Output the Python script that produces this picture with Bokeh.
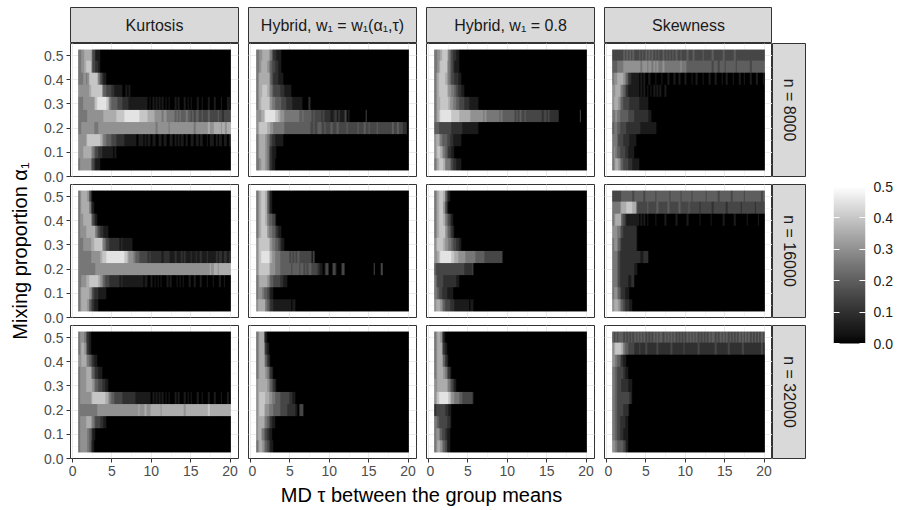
import numpy as np
from bokeh.plotting import figure
from bokeh.layouts import row, column
from bokeh.models import (Range1d, LinearColorMapper, SingleIntervalTicker,
                          FixedTicker, LinearAxis, PrintfTickFormatter, Spacer)
from bokeh.core.properties import value
from bokeh.embed import file_html
from bokeh.resources import INLINE

# ---------------- data ----------------
# tau grid (MD between group means) and mixing proportions (top row first)
tau = np.round(np.arange(0.8, 20.05, 0.2), 1)
alpha = [0.50, 0.45, 0.40, 0.35, 0.30, 0.25, 0.20, 0.15, 0.10, 0.05]
methods = ["Kurtosis", "Hybrid, w\u2081 = w\u2081(\u03b1\u2081,\u03c4)", "Hybrid, w\u2081 = 0.8", "Skewness"]
sizes = ["n = 8000", "n = 16000", "n = 32000"]
x_ticks = [0, 5, 10, 15, 20]
y_ticks = [0.0, 0.1, 0.2, 0.3, 0.4, 0.5]
legend_ticks = [0.0, 0.1, 0.2, 0.3, 0.4, 0.5]
x_title = "MD \u03c4 between the group means"
y_title = "Mixing proportion \u03b1\u2081"
LEVEL = 0.05  # one digit in the rows below = 0.05

# each row: one digit per tau column (0.8 ... 20.0), rows from alpha 0.50 down to 0.05
kurt_8000 = [
    "55667 77763 31110 00000 00000 00000 00000 00000 00000 00000 00000 00000 00000 00000 00000 00000 00000 00000 00000 00",
    "55667 88863 32210 00000 00000 00000 00000 00000 00000 00000 00000 00000 00000 00000 00000 00000 00000 00000 00000 00",
    "55566 56888 88753 21100 00000 00000 00000 00000 00000 00000 00000 00000 00000 00000 00000 00000 00000 00000 00000 00",
    "66666 66788 88888 54433 32211 11100 10100 00000 00000 00000 00000 00000 00000 00000 00000 00000 00000 00000 00000 00",
    "55566 66666 78999 99987 54444 33322 22111 11111 11110 10101 01010 10100 01010 00101 01000 10010 00100 01000 10001 10",
    "55555 56666 66666 67777 77778 88889 99999 99998 88887 77766 66656 65555 54545 44454 43434 43343 33433 33343 32333 33",
    "55666 66666 55566 66666 66666 66666 66666 66666 66666 66665 66666 66566 66666 66666 66656 66666 66766 67777 67767 77",
    "66666 78888 88887 65544 43332 22221 11111 11011 10101 10110 01101 10011 01010 11010 01101 10110 01011 10101 10110 11",
    "66677 77765 43322 11111 11010 00000 00000 00000 00000 00000 00000 00000 00000 00000 00000 00000 00000 00000 00000 00",
    "56666 66643 21110 00000 00000 00000 00000 00000 00000 00000 00000 00000 00000 00000 00000 00000 00000 00000 00000 00",
]
hyb_8000 = [
    "55667 77765 32211 10000 00000 00000 00000 00000 00000 00000 00000 00000 00000 00000 00000 00000 00000 00000 00000 00",
    "55677 77654 33221 10000 00000 00000 00000 00000 00000 00000 00000 00000 00000 00000 00000 00000 00000 00000 00000 00",
    "56777 77764 32221 11000 00000 00000 00000 00000 00000 00000 00000 00000 00000 00000 00000 00000 00000 00000 00000 00",
    "56778 88765 43333 22211 11000 00000 00000 00000 00000 00000 00000 00000 00000 00000 00000 00000 00000 00000 00000 00",
    "56788 88876 55444 43332 22211 11110 00020 00000 00000 00000 00000 00000 00000 00000 00000 00000 00000 00000 00000 00",
    "66677 89999 99887 66655 55555 55445 44444 34333 32322 22112 31311 13010 00000 00003 00000 00000 00000 00000 00000 00",
    "67888 88776 65555 55544 44444 44444 44443 34334 43343 33433 34333 33433 33334 33343 34333 34333 33333 34334 33322 00",
    "56777 76543 22111 11000 00000 00000 00000 00000 00000 00000 00000 00000 00000 00000 00000 00000 00000 00000 00000 00",
    "56777 76532 11100 00000 00000 00000 00000 00000 00000 00000 00000 00000 00000 00000 00000 00000 00000 00000 00000 00",
    "55677 76532 11000 00000 00000 00000 00000 00000 00000 00000 00000 00000 00000 00000 00000 00000 00000 00000 00000 00",
]
hyb08_8000 = [
    "55667 88875 43221 10000 00000 00000 00000 00000 00000 00000 00000 00000 00000 00000 00000 00000 00000 00000 00000 00",
    "55678 88865 43211 10000 00000 00000 00000 00000 00000 00000 00000 00000 00000 00000 00000 00000 00000 00000 00000 00",
    "56788 88765 43322 11000 00000 00000 00000 00000 00000 00000 00000 00000 00000 00000 00000 00000 00000 00000 00000 00",
    "56788 88876 65543 22110 00000 00000 00000 00000 00000 00000 00000 00000 00000 00000 00000 00000 00000 00000 00000 00",
    "56778 88887 66554 43332 22111 11100 00000 00000 00000 00000 00000 00000 00000 00000 00000 00000 00000 00000 00000 00",
    "56789 99999 98888 87777 77766 66666 65655 55555 54544 44444 43434 33433 33333 33323 32322 22220 00000 00000 00300 00",
    "44433 33333 32222 22211 11111 11100 00000 00000 00000 00000 00000 00000 00000 00000 00000 00000 00000 00000 00000 00",
    "67765 44433 22111 11000 00000 00000 00000 00000 00000 00000 00000 00000 00000 00000 00000 00000 00000 00000 00000 00",
    "67887 65432 21100 00000 00000 00000 00000 00000 00000 00000 00000 00000 00000 00000 00000 00000 00000 00000 00000 00",
    "56788 87555 43221 11000 00000 00000 00000 00000 00000 00000 00000 00000 00000 00000 00000 00000 00000 00000 00000 00",
]
skew_8000 = [
    "33333 33434 34343 33434 34343 43434 33434 34343 43343 33433 34333 33433 33343 33333 43333 33433 33333 33333 33333 33",
    "44455 55666 66666 66656 66566 56565 55655 55555 55565 55444 44444 44444 44434 44344 43444 44434 44444 44344 44444 44",
    "56677 77654 22111 11010 10010 00100 01000 10001 00100 01000 10010 00100 01000 10001 00100 01000 10010 00100 01000 10",
    "66777 65432 11111 11010 10101 01010 10010 00000 00000 00000 00000 00000 00000 00000 00000 00000 00000 00000 00000 00",
    "67776 54333 32222 22111 11100 00000 00000 00000 00000 00000 00000 00000 00000 00000 00000 00000 00000 00000 00000 00",
    "55655 44444 33332 22222 22211 00000 00000 00000 00000 00000 00000 00000 00000 00000 00000 00000 00000 00000 00000 00",
    "45544 33332 22222 22211 11111 11100 00000 00000 00000 00000 00000 00000 00000 00000 00000 00000 00000 00000 00000 00",
    "55543 33222 21111 00000 00000 00000 00000 00000 00000 00000 00000 00000 00000 00000 00000 00000 00000 00000 00000 00",
    "56544 33322 11110 00000 00000 00000 00000 00000 00000 00000 00000 00000 00000 00000 00000 00000 00000 00000 00000 00",
    "56776 54333 22211 11000 00000 00000 00000 00000 00000 00000 00000 00000 00000 00000 00000 00000 00000 00000 00000 00",
]
kurt_16000 = [
    "56777 76310 00000 00000 00000 00000 00000 00000 00000 00000 00000 00000 00000 00000 00000 00000 00000 00000 00000 00",
    "56777 77521 00000 00000 00000 00000 00000 00000 00000 00000 00000 00000 00000 00000 00000 00000 00000 00000 00000 00",
    "56677 77753 21000 00000 00000 00000 00000 00000 00000 00000 00000 00000 00000 00000 00000 00000 00000 00000 00000 00",
    "56666 77777 75432 21110 00000 00000 00000 00000 00000 00000 00000 00000 00000 00000 00000 00000 00000 00000 00000 00",
    "55566 66677 88888 65433 22222 21211 11110 00000 00000 00000 00000 00000 00000 00000 00000 00000 00000 00000 00000 00",
    "55555 55566 66667 88899 99999 99998 87666 54443 33332 32222 22212 22211 12111 21211 12112 11211 12111 11212 21221 21",
    "55555 55555 56666 66666 66666 66666 66666 66666 66666 66666 66666 66666 66666 66666 66666 66666 66676 67767 77777 77",
    "55666 77888 88876 54333 22222 21211 11111 11111 10110 01010 10100 01010 00101 01000 10010 00100 01000 10001 00100 00",
    "56777 77653 22211 11100 00000 00000 00000 00000 00000 00000 00000 00000 00000 00000 00000 00000 00000 00000 00000 00",
    "56777 76432 11100 00000 00000 00000 00000 00000 00000 00000 00000 00000 00000 00000 00000 00000 00000 00000 00000 00",
]
hyb_16000 = [
    "56788 87421 00000 00000 00000 00000 00000 00000 00000 00000 00000 00000 00000 00000 00000 00000 00000 00000 00000 00",
    "56788 87421 00000 00000 00000 00000 00000 00000 00000 00000 00000 00000 00000 00000 00000 00000 00000 00000 00000 00",
    "56788 87544 33100 00000 00000 00000 00000 00000 00000 00000 00000 00000 00000 00000 00000 00000 00000 00000 00000 00",
    "56788 88655 44321 10000 00000 00000 00000 00000 00000 00000 00000 00000 00000 00000 00000 00000 00000 00000 00000 00",
    "67888 88876 55443 21100 00000 00000 00000 00000 00000 00000 00000 00000 00000 00000 00000 00000 00000 00000 00000 00",
    "67899 99987 66555 44444 43434 34333 33333 14000 00000 00000 00000 00000 00000 00000 00000 00000 00000 00000 00000 00",
    "67888 88876 66555 44444 44344 44344 34344 33332 11013 30033 10003 30000 00000 00000 00003 00003 00000 00000 00000 00",
    "56777 77654 43333 22111 00000 00000 00000 00000 00000 00000 00000 00000 00000 00000 00000 00000 00000 00000 00000 00",
    "56665 44321 10000 00000 00000 00000 00000 00000 00000 00000 00000 00000 00000 00000 00000 00000 00000 00000 00000 00",
    "67777 75432 21111 11111 11011 00000 00000 00000 00000 00000 00000 00000 00000 00000 00000 00000 00000 00000 00000 00",
]
hyb08_16000 = [
    "56788 87421 00000 00000 00000 00000 00000 00000 00000 00000 00000 00000 00000 00000 00000 00000 00000 00000 00000 00",
    "56788 86310 00000 00000 00000 00000 00000 00000 00000 00000 00000 00000 00000 00000 00000 00000 00000 00000 00000 00",
    "56788 87543 21000 00000 00000 00000 00000 00000 00000 00000 00000 00000 00000 00000 00000 00000 00000 00000 00000 00",
    "56788 88654 32100 00000 00000 00000 00000 00000 00000 00000 00000 00000 00000 00000 00000 00000 00000 00000 00000 00",
    "67888 87665 54332 21000 00000 00000 00000 00000 00000 00000 00000 00000 00000 00000 00000 00000 00000 00000 00000 00",
    "66789 99999 98877 66666 55555 54444 44333 33333 33300 00000 00000 00000 00000 00000 00000 00000 00000 00000 00000 00",
    "43333 33333 33333 33332 22223 00000 00000 00000 00000 00000 00000 00000 00000 00000 00000 00000 00000 00000 00000 00",
    "54333 32222 22221 10000 00000 00000 00000 00000 00000 00000 00000 00000 00000 00000 00000 00000 00000 00000 00000 00",
    "55433 22211 11000 00000 00000 00000 00000 00000 00000 00000 00000 00000 00000 00000 00000 00000 00000 00000 00000 00",
    "67776 54333 22211 11111 11011 00000 00000 00000 00000 00000 00000 00000 00000 00000 00000 00000 00000 00000 00000 00",
]
skew_16000 = [
    "33333 34444 44434 44444 34444 44344 44444 43444 44434 44444 34444 44443 44444 44344 44444 34444 44434 44444 44443 44",
    "55555 67778 88877 43333 33433 33343 33333 43333 33433 33343 33333 23333 33323 33333 33233 33333 32333 33333 23333 33",
    "56777 74321 11111 11010 10100 00100 00010 00000 10000 00100 00000 10000 00100 00000 10000 00100 00000 10000 00100 00",
    "66655 43222 22222 10000 00000 00000 00000 00000 00000 00000 00000 00000 00000 00000 00000 00000 00000 00000 00000 00",
    "56654 32222 22222 10000 00000 00000 00000 00000 00000 00000 00000 00000 00000 00000 00000 00000 00000 00000 00000 00",
    "55543 22222 22222 22211 22200 00000 00000 00000 00000 00000 00000 00000 00000 00000 00000 00000 00000 00000 00000 00",
    "55543 22222 22221 10000 00000 00000 00000 00000 00000 00000 00000 00000 00000 00000 00000 00000 00000 00000 00000 00",
    "55543 22222 11220 00000 00000 00000 00000 00000 00000 00000 00000 00000 00000 00000 00000 00000 00000 00000 00000 00",
    "56654 32211 10000 00000 00000 00000 00000 00000 00000 00000 00000 00000 00000 00000 00000 00000 00000 00000 00000 00",
    "67776 54322 21100 00000 00000 00000 00000 00000 00000 00000 00000 00000 00000 00000 00000 00000 00000 00000 00000 00",
]
kurt_32000 = [
    "56665 32100 00000 00000 00000 00000 00000 00000 00000 00000 00000 00000 00000 00000 00000 00000 00000 00000 00000 00",
    "56776 42100 00000 00000 00000 00000 00000 00000 00000 00000 00000 00000 00000 00000 00000 00000 00000 00000 00000 00",
    "66777 65432 11000 00000 00000 00000 00000 00000 00000 00000 00000 00000 00000 00000 00000 00000 00000 00000 00000 00",
    "56666 77754 32211 00000 00000 00000 00000 00000 00000 00000 00000 00000 00000 00000 00000 00000 00000 00000 00000 00",
    "56666 77776 54433 22110 00000 00000 00000 00000 00000 00000 00000 00000 00000 00000 00000 00000 00000 00000 00000 00",
    "56666 66678 88888 88776 54433 33322 22222 21111 11111 10101 01010 10100 01010 00101 01000 10010 00100 01000 10001 00",
    "55555 55555 55666 66666 66666 66666 66666 66676 66766 67777 77677 77777 77777 77677 77777 77777 77877 77777 77777 77",
    "56666 77765 43332 21100 00000 00000 00000 00000 00000 00000 00000 00000 00000 00000 00000 00000 00000 00000 00000 00",
    "56666 65431 10000 00000 00000 00000 00000 00000 00000 00000 00000 00000 00000 00000 00000 00000 00000 00000 00000 00",
    "56666 65421 00000 00000 00000 00000 00000 00000 00000 00000 00000 00000 00000 00000 00000 00000 00000 00000 00000 00",
]
hyb_32000 = [
    "56777 31000 00000 00000 00000 00000 00000 00000 00000 00000 00000 00000 00000 00000 00000 00000 00000 00000 00000 00",
    "56777 52100 00000 00000 00000 00000 00000 00000 00000 00000 00000 00000 00000 00000 00000 00000 00000 00000 00000 00",
    "56777 64210 00000 00000 00000 00000 00000 00000 00000 00000 00000 00000 00000 00000 00000 00000 00000 00000 00000 00",
    "56777 76532 10000 00000 00000 00000 00000 00000 00000 00000 00000 00000 00000 00000 00000 00000 00000 00000 00000 00",
    "67777 77654 32100 00000 00000 00000 00000 00000 00000 00000 00000 00000 00000 00000 00000 00000 00000 00000 00000 00",
    "67888 87766 55444 33333 32211 00000 00000 00000 00000 00000 00000 00000 00000 00000 00000 00000 00000 00000 00000 00",
    "67888 76655 54444 33333 22222 10333 00000 00000 00000 00000 00000 00000 00000 00000 00000 00000 00000 00000 00000 00",
    "67777 65432 11000 00000 00000 00000 00000 00000 00000 00000 00000 00000 00000 00000 00000 00000 00000 00000 00000 00",
    "67765 43211 00000 00000 00000 00000 00000 00000 00000 00000 00000 00000 00000 00000 00000 00000 00000 00000 00000 00",
    "56776 54321 10000 00000 00000 00000 00000 00000 00000 00000 00000 00000 00000 00000 00000 00000 00000 00000 00000 00",
]
hyb08_32000 = [
    "56776 31000 00000 00000 00000 00000 00000 00000 00000 00000 00000 00000 00000 00000 00000 00000 00000 00000 00000 00",
    "56777 42100 00000 00000 00000 00000 00000 00000 00000 00000 00000 00000 00000 00000 00000 00000 00000 00000 00000 00",
    "56777 64210 00000 00000 00000 00000 00000 00000 00000 00000 00000 00000 00000 00000 00000 00000 00000 00000 00000 00",
    "56777 76532 10000 00000 00000 00000 00000 00000 00000 00000 00000 00000 00000 00000 00000 00000 00000 00000 00000 00",
    "66777 77765 43210 00000 00000 00000 00000 00000 00000 00000 00000 00000 00000 00000 00000 00000 00000 00000 00000 00",
    "67899 99998 76655 54433 33332 00000 00000 00000 00000 00000 00000 00000 00000 00000 00000 00000 00000 00000 00000 00",
    "23333 33221 10000 00000 00000 00000 00000 00000 00000 00000 00000 00000 00000 00000 00000 00000 00000 00000 00000 00",
    "55433 33322 10000 00000 00000 00000 00000 00000 00000 00000 00000 00000 00000 00000 00000 00000 00000 00000 00000 00",
    "56654 33211 00000 00000 00000 00000 00000 00000 00000 00000 00000 00000 00000 00000 00000 00000 00000 00000 00000 00",
    "56776 54311 00000 00000 00000 00000 00000 00000 00000 00000 00000 00000 00000 00000 00000 00000 00000 00000 00000 00",
]
skew_32000 = [
    "43434 44343 43434 34343 43434 34343 44343 43434 34343 43434 34343 43434 34344 34343 43434 34343 43434 34343 43434 34",
    "67888 87544 33332 22322 23222 22232 22222 22322 22222 32222 22223 22222 22222 32222 22232 22222 22322 22222 22223 22",
    "66544 32110 00000 00000 00000 00000 00000 00000 00000 00000 00000 00000 00000 00000 00000 00000 00000 00000 00000 00",
    "55433 33211 00000 00000 00000 00000 00000 00000 00000 00000 00000 00000 00000 00000 00000 00000 00000 00000 00000 00",
    "55433 32222 11100 00000 00000 00000 00000 00000 00000 00000 00000 00000 00000 00000 00000 00000 00000 00000 00000 00",
    "55433 33333 32100 00000 00000 00000 00000 00000 00000 00000 00000 00000 00000 00000 00000 00000 00000 00000 00000 00",
    "55433 33222 10000 00000 00000 00000 00000 00000 00000 00000 00000 00000 00000 00000 00000 00000 00000 00000 00000 00",
    "55433 22211 00000 00000 00000 00000 00000 00000 00000 00000 00000 00000 00000 00000 00000 00000 00000 00000 00000 00",
    "55433 22111 00000 00000 00000 00000 00000 00000 00000 00000 00000 00000 00000 00000 00000 00000 00000 00000 00000 00",
    "66544 44321 00000 00000 00000 00000 00000 00000 00000 00000 00000 00000 00000 00000 00000 00000 00000 00000 00000 00",
]

grid_data = [
    [kurt_8000, hyb_8000, hyb08_8000, skew_8000],
    [kurt_16000, hyb_16000, hyb08_16000, skew_16000],
    [kurt_32000, hyb_32000, hyb08_32000, skew_32000],
]

# ---------------- style ----------------
FONT = "Liberation Sans"
FW, FH = 168, 133
GAP, VGAP = 10, 8
YT_LEFT = 36       # y-title column (border), plus a 1px frame
LEFT = 33          # room for y tick labels
BOTTOM = 24
RSTRIP = 34
STRIP_TOP, STRIP_H = 7, 36
TOTAL_H = 510
LEG_TOP, LEG_H = 186, 157   # colour bar position (px from top) and length


def lab_grey_palette(n=256):
    pal = []
    for i in range(n):
        L = 100.0 * i / (n - 1)
        fy = (L + 16) / 116.0
        Y = fy ** 3 if fy ** 3 > 216 / 24389 else L / (24389 / 27)
        c = 12.92 * Y if Y <= 0.0031308 else 1.055 * Y ** (1 / 2.4) - 0.055
        g = int(round(255 * min(max(c, 0.0), 1.0)))
        pal.append("#%02x%02x%02x" % (g, g, g))
    return pal


mapper = LinearColorMapper(palette=lab_grey_palette(), low=0.0, high=0.5)

dtau = 0.2
dalpha = 0.05
xlo, xhi = float(tau[0]) - dtau / 2, float(tau[-1]) + dtau / 2
xpad = 0.05 * (xhi - xlo)
ylo, yhi = min(alpha) - dalpha / 2, max(alpha) + dalpha / 2
ypad = 0.05 * (yhi - ylo)


def matrix_for(rows):
    # rows listed from the top (alpha 0.50); image rows run upward from alpha 0.05
    mat = [[int(ch) * LEVEL for ch in r.replace(" ", "")][:len(tau)] for r in rows]
    return np.array(mat[::-1], dtype=float)


def style_axis(ax):
    ax.axis_line_color = None
    ax.major_tick_line_color = "#333333"
    ax.major_tick_out = 4
    ax.major_tick_in = 0
    ax.minor_tick_line_color = None
    ax.major_label_text_font = FONT
    ax.major_label_text_font_size = "14px"
    ax.major_label_text_color = "#4D4D4D"
    ax.major_label_standoff = 3


def make_panel(rows, ri, ci):
    show_y = ci == 0
    show_x = ri == 2
    p = figure(frame_width=FW, frame_height=FH,
               x_range=Range1d(xlo - xpad, xhi + xpad), y_range=Range1d(ylo - ypad, yhi + ypad),
               x_axis_location="below" if show_x else None,
               y_axis_location="left" if show_y else None,
               output_backend="svg", toolbar_location=None,
               min_border_left=LEFT if show_y else 0,
               min_border_right=GAP if ci < 3 else 0,
               min_border_top=0,
               min_border_bottom=BOTTOM if show_x else VGAP,
               background_fill_color="white", border_fill_color="white",
               outline_line_color="#333333", outline_line_width=1)
    p.xgrid.ticker = SingleIntervalTicker(interval=5, num_minor_ticks=2)
    p.ygrid.ticker = SingleIntervalTicker(interval=0.1, num_minor_ticks=2)
    for g in (p.xgrid, p.ygrid):
        g.grid_line_color = "#EBEBEB"
        g.grid_line_width = 1
        g.minor_grid_line_color = "#EBEBEB"
        g.minor_grid_line_width = 0.5
    p.image(image=[matrix_for(rows)], x=xlo, y=ylo, dw=xhi - xlo, dh=yhi - ylo, color_mapper=mapper)
    if show_y:
        p.yaxis.ticker = FixedTicker(ticks=y_ticks)
        p.yaxis.formatter = PrintfTickFormatter(format="%.1f")
        style_axis(p.yaxis[0])
    if show_x:
        p.xaxis.ticker = FixedTicker(ticks=x_ticks)
        style_axis(p.xaxis[0])
    return p


def text_fig(fw, fh, left, right, top, bottom, fill=None, outline=None, xloc=None, yloc=None):
    p = figure(frame_width=fw, frame_height=fh, x_range=Range1d(0, 1), y_range=Range1d(0, 1),
               x_axis_location=xloc, y_axis_location=yloc,
               output_backend="svg", toolbar_location=None,
               min_border_left=left, min_border_right=right,
               min_border_top=top, min_border_bottom=bottom,
               background_fill_color=fill if fill else "white", border_fill_color="white",
               outline_line_color=outline, outline_line_width=1)
    p.grid.visible = False
    return p


def strip_fig(label, fw, fh, left, right, top, bottom, angle=0.0):
    p = text_fig(fw, fh, left, right, top, bottom, fill="#D9D9D9", outline="#333333")
    p.text(x=[0.5], y=[0.5], text=[label], angle=angle, text_align="center", text_baseline="middle",
           text_font=value(FONT), text_font_size="16px", text_color="#1A1A1A")
    return p


def title_axis(ax, label, standoff):
    ax.ticker = FixedTicker(ticks=[])
    ax.axis_line_color = None
    ax.major_tick_line_color = None
    ax.minor_tick_line_color = None
    ax.major_tick_out = 0
    ax.major_label_standoff = 0
    ax.axis_label = label
    ax.axis_label_text_font = FONT
    ax.axis_label_text_font_size = "20px"
    ax.axis_label_text_font_style = "normal"
    ax.axis_label_text_color = "black"
    ax.axis_label_standoff = standoff


# top strips
strip_row = row(
    *[strip_fig(methods[c], FW, STRIP_H, LEFT if c == 0 else 0, GAP if c < 3 else 0, STRIP_TOP, 0)
      for c in range(4)],
    Spacer(width=RSTRIP, height=STRIP_TOP + STRIP_H),
)

panel_rows = []
for ri in range(3):
    figs = [make_panel(grid_data[ri][ci], ri, ci) for ci in range(4)]
    figs.append(strip_fig(sizes[ri], RSTRIP, FH, 0, 0, 0, BOTTOM if ri == 2 else VGAP, angle=-np.pi / 2))
    panel_rows.append(row(*figs))

used_h = STRIP_TOP + STRIP_H + 2 * (FH + VGAP) + FH + BOTTOM

# x axis title: label of an empty axis under a 1px frame that spans the panel columns
xt = text_fig(3 * (FW + GAP) + FW, 1, LEFT, RSTRIP, 0, TOTAL_H - used_h - 1, xloc="below")
title_axis(xt.xaxis[0], x_title, 0)

left_block = column(strip_row, *panel_rows, xt)

# y axis title: label of an empty axis beside a frame that spans the panel rows
span_top = STRIP_TOP + STRIP_H
panel_span = 3 * FH + 2 * VGAP
span_bottom = TOTAL_H - span_top - panel_span
yt = text_fig(1, panel_span, YT_LEFT, 0, span_top, span_bottom, yloc="left")
title_axis(yt.yaxis[0], y_title, 6)

# colour bar: same frame rows as the y-title figure (the row aligns plot frames),
# with the value range stretched so that 0..0.5 lands on the bar position
per_px = (legend_ticks[-1] - legend_ticks[0]) / LEG_H
cb_top = legend_ticks[-1] + (LEG_TOP - span_top) * per_px
cb_bot = legend_ticks[0] - (span_top + panel_span - (LEG_TOP + LEG_H)) * per_px
cb = figure(frame_width=32, frame_height=panel_span, x_range=Range1d(0, 1), y_range=Range1d(cb_bot, cb_top),
            x_axis_location=None, y_axis_location="right", output_backend="svg", toolbar_location=None,
            min_border_left=27, min_border_right=34, min_border_top=span_top, min_border_bottom=span_bottom,
            outline_line_color=None, border_fill_color="white", background_fill_color="white")
cb.grid.visible = False
grad = np.linspace(0.0, 0.5, 256).reshape(-1, 1)
cb.image(image=[grad], x=0, y=0, dw=1, dh=0.5, color_mapper=mapper)
ax = cb.yaxis[0]
ax.ticker = FixedTicker(ticks=legend_ticks)
ax.formatter = PrintfTickFormatter(format="%.1f")
ax.axis_line_color = None
ax.major_tick_in = 6
ax.major_tick_out = 0
ax.major_tick_line_color = "white"
ax.minor_tick_line_color = None
ax.major_label_standoff = 8
ax.major_label_text_font = FONT
ax.major_label_text_font_size = "14px"
ax.major_label_text_color = "#1A1A1A"
lax = LinearAxis(ticker=FixedTicker(ticks=legend_ticks), axis_line_color=None,
                 major_tick_in=6, major_tick_out=0, major_tick_line_color="white",
                 minor_tick_line_color=None, major_label_text_alpha=0.0, major_label_text_font_size="1px")
cb.add_layout(lax, "left")

layout = row(yt, left_block, cb)

open("out.html", "w").write(file_html(layout, INLINE))
